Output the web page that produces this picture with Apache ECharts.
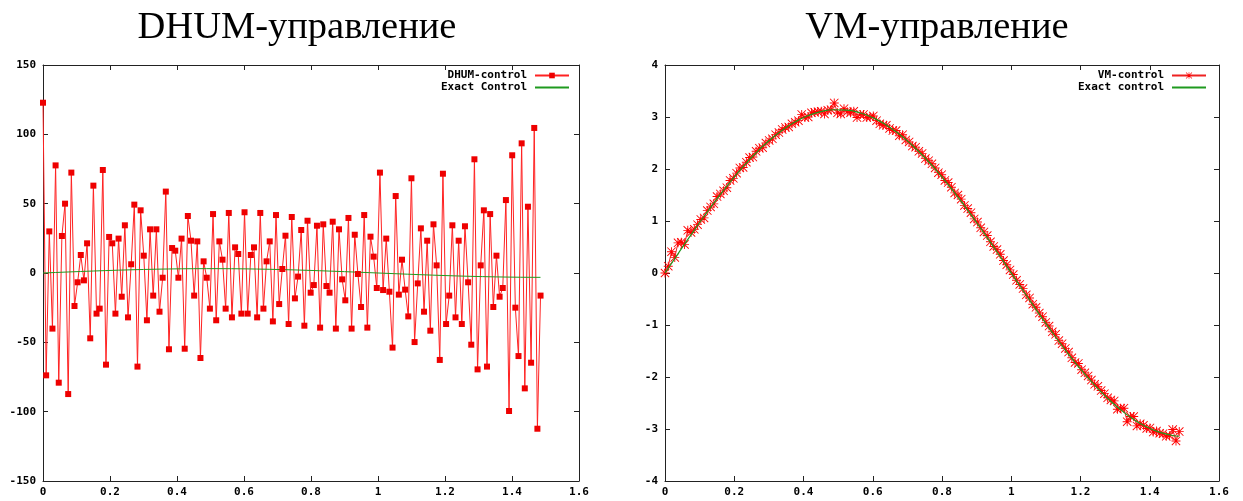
<!DOCTYPE html>
<html><head><meta charset="utf-8">
<script src="https://cdn.jsdelivr.net/npm/echarts@6/dist/echarts.min.js"></script>
<style>html,body{margin:0;padding:0;background:#fff}#c{width:1243px;height:501px}</style>
</head><body><div id="c"></div>
<script>
// time grid step (sampling of both controls)
const dt = 0.0094;
const xTicks = [0, 0.2, 0.4, 0.6, 0.8, 1, 1.2, 1.4, 1.6];

// DHUM-control values (left chart)
const dhumValues = [122.8, -73.8, 30, -40.1, 77.6, -79.1, 26.7, 50, -87.3, 72.4,
 -23.8, -6.7, 13, -5.3, 21.4, -47.1, 63, -29.3, -25.7, 74.3,
 -66.1, 26, 21.4, -29.3, 24.8, -17.1, 34.4, -32, 6.3, 49.3,
 -67.5, 45.2, 12.5, -34.1, 31.5, -16.3, 31.5, -27.9, -3.4, 58.7,
 -55, 18, 16.1, -3.4, 24.8, -54.6, 41.1, 23.3, -16.3, 22.8,
 -61.3, 8.4, -3.4, -25.7, 42.5, -34.1, 22.8, 9.6, -25.7, 43.3,
 -32, 18.5, 13.7, -29.3, 43.8, -29.3, 13, 18.5, -32, 43.3,
 -25.7, 8.4, 22.8, -34.9, 41.8, -22.4, 2.9, 26.9, -36.8, 40.4,
 -18.3, -2.6, 31, -38, 37.7, -14.2, -8.7, 34.1, -39.4, 35.1,
 -9.4, -14.2, 37, -40.1, 31.5, -4.6, -19.7, 39.7, -40.1, 27.6,
 -0.7, -24.5, 41.8, -39.4, 26.2, 11.8, -10.8, 72.4, -12.3, 24.8,
 -13.5, -53.8, 55.5, -15.6, 9.6, -12, -31.3, 68.3, -49.8, -7.5,
 32.2, -27.9, 23.3, -41.6, 35.1, 5.5, -62.7, 71.6, -36.8, -16.3,
 34.4, -32, 23.3, -36.8, 33.7, -6.7, -51.7, 82, -69.5, 5.5,
 45.2, -67.5, 42.5, -24.5, 12.5, -17.1, -10.8, 52.6, -99.5, 84.9,
 -25, -59.9, 93.5, -83.2, 47.8, -64.7, 104.6, -112.3, -16.3];

// VM-control values (right chart)
const vmValues = [0.00, 0.13, 0.41, 0.30, 0.58, 0.59, 0.55, 0.82, 0.78, 0.84,
 0.93, 1.03, 1.06, 1.20, 1.27, 1.33, 1.47, 1.52, 1.58, 1.64,
 1.78, 1.82, 1.92, 2.02, 2.03, 2.13, 2.22, 2.23, 2.34, 2.40,
 2.41, 2.50, 2.55, 2.58, 2.66, 2.70, 2.76, 2.80, 2.81, 2.87,
 2.90, 2.93, 3.05, 2.99, 3.00, 3.08, 3.09, 3.10, 3.11, 3.06,
 3.13, 3.14, 3.27, 3.08, 3.06, 3.16, 3.10, 3.08, 3.11, 2.99,
 3.05, 3.05, 2.99, 3.00, 3.02, 2.93, 2.87, 2.84, 2.84, 2.78,
 2.74, 2.74, 2.64, 2.66, 2.56, 2.52, 2.44, 2.42, 2.34, 2.30,
 2.20, 2.16, 2.10, 2.02, 1.93, 1.89, 1.78, 1.74, 1.65, 1.54,
 1.50, 1.42, 1.30, 1.24, 1.16, 1.04, 0.98, 0.87, 0.79, 0.72,
 0.60, 0.51, 0.45, 0.36, 0.24, 0.16, 0.06, -0.03, -0.14, -0.22,
 -0.30, -0.42, -0.48, -0.60, -0.66, -0.77, -0.84, -0.95, -1.02, -1.13,
 -1.18, -1.30, -1.36, -1.45, -1.52, -1.63, -1.72, -1.74, -1.86, -1.92,
 -1.98, -2.06, -2.14, -2.18, -2.26, -2.32, -2.40, -2.44, -2.46, -2.62,
 -2.60, -2.60, -2.86, -2.76, -2.76, -2.94, -2.90, -2.93, -2.99, -2.98,
 -3.06, -3.04, -3.08, -3.09, -3.14, -3.13, -3.01, -3.23, -3.05];

// Exact control (same curve in both charts)
const exactT = [0, 0.0375, 0.075, 0.1125, 0.15, 0.1875, 0.225, 0.2625, 0.3, 0.3375,
 0.375, 0.4125, 0.45, 0.4875, 0.525, 0.5625, 0.6, 0.6375, 0.675, 0.7125,
 0.75, 0.7875, 0.825, 0.8625, 0.9, 0.9375, 0.975, 1.0125, 1.05, 1.0875,
 1.125, 1.1625, 1.2, 1.2375, 1.275, 1.3125, 1.35, 1.3875, 1.425, 1.4625, 1.485];
const exactV = [0, 0.369, 0.733, 1.087, 1.426, 1.745, 2.040, 2.307, 2.542, 2.741,
 2.902, 3.024, 3.103, 3.139, 3.132, 3.081, 2.988, 2.853, 2.679, 2.467,
 2.221, 1.945, 1.641, 1.315, 0.971, 0.613, 0.246, -0.123, -0.491, -0.853,
 -1.202, -1.535, -1.847, -2.132, -2.389, -2.612, -2.799, -2.948, -3.055, -3.120, -3.139];

const dhumData = dhumValues.map((v, i) => [i * dt, v]);
const vmData = vmValues.map((v, i) => [i * dt, v]);
const exactData = exactT.map((t, i) => [t, exactV[i]]);

const MONO = 'DejaVu Sans Mono';
const lab = {fontFamily: MONO, fontWeight: 'bold', fontSize: 11, color: '#000'};
const axisLine = {show: true, onZero: false, lineStyle: {color: '#222', width: 1}};
const tick = {show: true, inside: true, length: 5, lineStyle: {color: '#222'}};

function xAx(g, pos, show) {
  return {gridIndex: g, type: 'value', min: 0, max: 1.6, interval: 0.2, position: pos,
    axisLine, axisTick: tick, splitLine: {show: false},
    axisLabel: Object.assign({show, margin: 6}, lab)};
}
function yAx(g, pos, show, min, max, iv) {
  return {gridIndex: g, type: 'value', min, max, interval: iv, position: pos,
    axisLine, axisTick: tick, splitLine: {show: false},
    axisLabel: Object.assign({show, margin: 7}, lab)};
}

const ASTER = 'path://M0 4.5H10V5.5H0Z M4.5 0H5.5V10H4.5Z M0.7 0L10 9.3L9.3 10L0 0.7Z M9.3 0L10 0.7L0.7 10L0 9.3Z';
const LINEICON = 'path://M0 4H34V6H0Z';
const GREEN = '#1f9a1f';

const chart = echarts.init(document.getElementById('c'), null, {renderer: 'canvas'});
chart.setOption({
  animation: false,
  backgroundColor: '#fff',
  graphic: [
    {type: 'text', x: 297, y: 28, style: {text: 'DHUM-управление', font: '38.5px "Liberation Serif"', fill: '#000', textAlign: 'center', textVerticalAlign: 'middle'}},
    {type: 'text', x: 937, y: 28, style: {text: 'VM-управление', font: '38.5px "Liberation Serif"', fill: '#000', textAlign: 'center', textVerticalAlign: 'middle'}}
  ],
  grid: [
    {left: 43, top: 65, width: 536, height: 416},
    {left: 665, top: 65, width: 554, height: 416}
  ],
  xAxis: [xAx(0, 'bottom', true), xAx(0, 'top', false), xAx(1, 'bottom', true), xAx(1, 'top', false)],
  yAxis: [yAx(0, 'left', true, -150, 150, 50), yAx(0, 'right', false, -150, 150, 50),
          yAx(1, 'left', true, -4, 4, 1), yAx(1, 'right', false, -4, 4, 1)],
  legend: [
    {data: ['DHUM-control', {name: 'Exact Control', icon: LINEICON}], orient: 'vertical', align: 'right', right: 668, top: 65,
      itemWidth: 34, itemHeight: 7, itemGap: 1, textStyle: Object.assign({}, lab, {padding: [0, 3, 0, 0]}), selectedMode: false},
    {data: ['VM-control', {name: 'Exact control', icon: LINEICON}], orient: 'vertical', align: 'right', right: 31, top: 65,
      itemWidth: 34, itemHeight: 8, itemGap: 1, textStyle: Object.assign({}, lab, {padding: [0, 3, 0, 0]}), selectedMode: false}
  ],
  series: [
    {name: 'DHUM-control', type: 'line', xAxisIndex: 0, yAxisIndex: 0, data: dhumData,
      symbol: 'rect', symbolSize: 6, lineStyle: {color: '#f22', width: 1}, itemStyle: {color: '#e00'}},
    {name: 'Exact Control', type: 'line', xAxisIndex: 0, yAxisIndex: 0, data: exactData,
      symbol: 'none', lineStyle: {color: GREEN, width: 1}, itemStyle: {color: GREEN}},
    {name: 'VM-control', type: 'line', xAxisIndex: 2, yAxisIndex: 2, data: vmData,
      symbol: ASTER, symbolSize: 9, lineStyle: {color: '#e22', width: 1}, itemStyle: {color: '#f00'}},
    {name: 'Exact control', type: 'line', xAxisIndex: 2, yAxisIndex: 2, data: exactData, smooth: true, z: 5,
      symbol: 'none', lineStyle: {color: GREEN, width: 1.2}, itemStyle: {color: GREEN}}
  ]
});
</script></body></html>
